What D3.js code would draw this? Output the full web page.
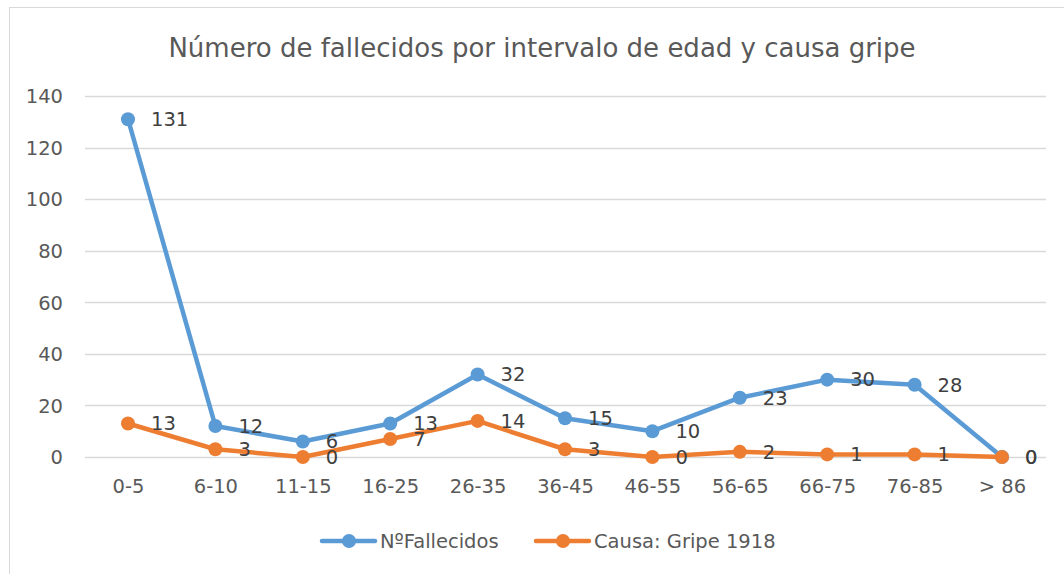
<!DOCTYPE html>
<html>
<head>
<meta charset="utf-8">
<script src="https://cdn.jsdelivr.net/npm/d3@7"></script>
<style>
  body { margin: 0; background: #fff; }
  svg text { font-family: "DejaVu Sans", Verdana, sans-serif; }
</style>
</head>
<body>
<svg id="chart" width="1064" height="574"></svg>
<script>
// Données
var intervalos = ["0-5", "6-10", "11-15", "16-25", "26-35", "36-45", "46-55", "56-65", "66-75", "76-85", "> 86"];
var fallecidos = [131, 12, 6, 13, 32, 15, 10, 23, 30, 28, 0];
var gripe = [13, 3, 0, 7, 14, 3, 0, 2, 1, 1, 0];
var yTicks = [0, 20, 40, 60, 80, 100, 120, 140];
var series = [
  { name: "NºFallecidos", values: fallecidos, color: "#5b9bd5" },
  { name: "Causa: Gripe 1918", values: gripe, color: "#ed7d31" }
];

var svg = d3.select("#chart");

// cadre du graphique
svg.append("rect")
  .attr("x", 9.5).attr("y", 7.5)
  .attr("width", 1064).attr("height", 580)
  .attr("fill", "none")
  .attr("stroke", "#d9d9d9")
  .attr("stroke-width", 1);

// titre
svg.append("text")
  .attr("x", 542).attr("y", 57)
  .attr("text-anchor", "middle")
  .attr("font-size", "26px")
  .attr("fill", "#595959")
  .text("Número de fallecidos por intervalo de edad y causa gripe");

var x = d3.scalePoint()
  .domain(intervalos)
  .range([128, 1002]);

var y = d3.scaleLinear()
  .domain([0, 140])
  .range([457, 96]);

// grille horizontale
svg.append("g")
  .selectAll("line")
  .data(yTicks)
  .enter()
  .append("line")
  .attr("x1", 85).attr("x2", 1046)
  .attr("y1", function(d) { return Math.round(y(d)) + 0.5; })
  .attr("y2", function(d) { return Math.round(y(d)) + 0.5; })
  .attr("stroke", "#d9d9d9")
  .attr("stroke-width", 1.5);

// axe Y
var yAxis = d3.axisLeft(y).tickValues(yTicks).tickSize(0).tickPadding(0);
var gy = svg.append("g").attr("transform", "translate(63,0)").call(yAxis);
gy.select(".domain").remove();
gy.selectAll("text")
  .attr("font-size", "19.5px")
  .attr("fill", "#595959")
  .attr("dy", "0.35em");

// axe X
var xAxis = d3.axisBottom(x).tickSize(0).tickPadding(0);
var gx = svg.append("g").attr("transform", "translate(0,479)").call(xAxis);
gx.select(".domain").remove();
gx.selectAll("text")
  .attr("font-size", "19.5px")
  .attr("fill", "#595959")
  .attr("dy", "0.71em");

var line = d3.line()
  .x(function(d, i) { return x(intervalos[i]); })
  .y(function(d) { return y(d); });

series.forEach(function(s) {
  var g = svg.append("g");
  g.append("path")
    .datum(s.values)
    .attr("d", line)
    .attr("fill", "none")
    .attr("stroke", s.color)
    .attr("stroke-width", 4.5)
    .attr("stroke-linejoin", "round")
    .attr("stroke-linecap", "round");
  g.selectAll("circle")
    .data(s.values)
    .enter()
    .append("circle")
    .attr("cx", function(d, i) { return x(intervalos[i]); })
    .attr("cy", function(d) { return y(d); })
    .attr("r", 7)
    .attr("fill", s.color);
});

// étiquettes de données
series.forEach(function(s) {
  svg.append("g")
    .selectAll("text")
    .data(s.values)
    .enter()
    .append("text")
    .attr("x", function(d, i) { return x(intervalos[i]) + 23; })
    .attr("y", function(d) { return y(d); })
    .attr("dy", "0.35em")
    .attr("font-size", "19.5px")
    .attr("fill", "#404040")
    .text(function(d) { return d; });
});

// légende
var legend = svg.append("g");
var legX = [320, 534];
series.forEach(function(s, i) {
  var lg = legend.append("g").attr("transform", "translate(" + legX[i] + ",541)");
  lg.append("line")
    .attr("x1", 2).attr("x2", 55)
    .attr("stroke", s.color)
    .attr("stroke-width", 4.5)
    .attr("stroke-linecap", "round");
  lg.append("circle").attr("cx", 29).attr("r", 7).attr("fill", s.color);
  lg.append("text")
    .attr("x", 60).attr("dy", "0.35em")
    .attr("font-size", "19.5px")
    .attr("fill", "#595959")
    .text(s.name);
});
</script>
</body>
</html>
